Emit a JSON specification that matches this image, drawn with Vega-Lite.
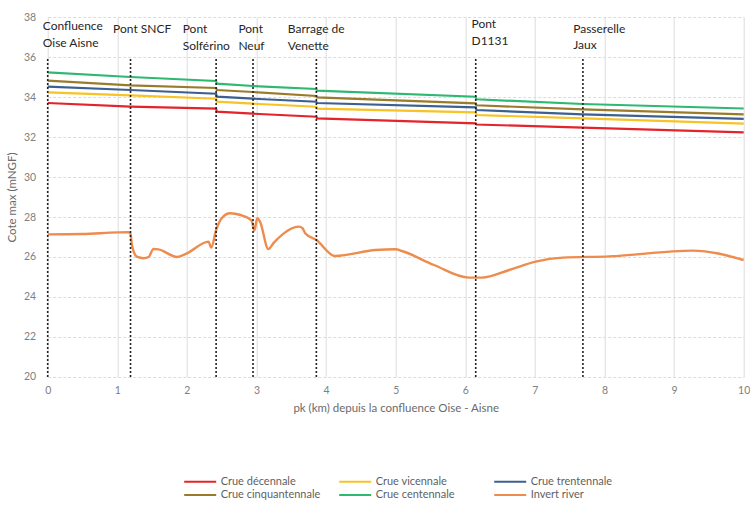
{
  "$schema": "https://vega.github.io/schema/vega-lite/v6.json",
  "width": 696,
  "height": 360,
  "autosize": {"type": "none"},
  "padding": {"left": 47.7, "top": 17, "right": 6, "bottom": 128},
  "background": "white",
  "config": {
    "font": "Lato",
    "view": {"stroke": null},
    "axis": {"labelFont": "Lato", "titleFont": "Lato", "labelColor": "#808080", "titleColor": "#6b6b6b", "titleFontWeight": "normal", "domain": false, "ticks": false, "gridColor": "#dcdcdc", "gridWidth": 1, "labelOverlap": false},
    "axisY": {"tickCount": 20, "gridDash": [3, 2], "labelOverlap": false}
  },
  "datasets": {
    "floods": [
      {"serie": "Crue centennale", "pk": 0, "cote": 35.235},
      {"serie": "Crue centennale", "pk": 1.19, "cote": 35.0},
      {"serie": "Crue centennale", "pk": 2.42, "cote": 34.8},
      {"serie": "Crue centennale", "pk": 2.43, "cote": 34.665},
      {"serie": "Crue centennale", "pk": 2.95, "cote": 34.55},
      {"serie": "Crue centennale", "pk": 3.86, "cote": 34.4},
      {"serie": "Crue centennale", "pk": 3.87, "cote": 34.315},
      {"serie": "Crue centennale", "pk": 6.15, "cote": 34.015},
      {"serie": "Crue centennale", "pk": 6.16, "cote": 33.885},
      {"serie": "Crue centennale", "pk": 7.69, "cote": 33.65},
      {"serie": "Crue centennale", "pk": 10, "cote": 33.425},
      {"serie": "Crue cinquantennale", "pk": 0, "cote": 34.815},
      {"serie": "Crue cinquantennale", "pk": 1.19, "cote": 34.585},
      {"serie": "Crue cinquantennale", "pk": 2.42, "cote": 34.45},
      {"serie": "Crue cinquantennale", "pk": 2.43, "cote": 34.35},
      {"serie": "Crue cinquantennale", "pk": 2.95, "cote": 34.25},
      {"serie": "Crue cinquantennale", "pk": 3.86, "cote": 34.05},
      {"serie": "Crue cinquantennale", "pk": 3.87, "cote": 33.985},
      {"serie": "Crue cinquantennale", "pk": 6.15, "cote": 33.685},
      {"serie": "Crue cinquantennale", "pk": 6.16, "cote": 33.585},
      {"serie": "Crue cinquantennale", "pk": 7.69, "cote": 33.385},
      {"serie": "Crue cinquantennale", "pk": 10, "cote": 33.135},
      {"serie": "Crue trentennale", "pk": 0, "cote": 34.515},
      {"serie": "Crue trentennale", "pk": 1.19, "cote": 34.35},
      {"serie": "Crue trentennale", "pk": 2.42, "cote": 34.165},
      {"serie": "Crue trentennale", "pk": 2.43, "cote": 34.015},
      {"serie": "Crue trentennale", "pk": 2.95, "cote": 33.915},
      {"serie": "Crue trentennale", "pk": 3.86, "cote": 33.765},
      {"serie": "Crue trentennale", "pk": 3.87, "cote": 33.7},
      {"serie": "Crue trentennale", "pk": 6.15, "cote": 33.485},
      {"serie": "Crue trentennale", "pk": 6.16, "cote": 33.35},
      {"serie": "Crue trentennale", "pk": 7.69, "cote": 33.135},
      {"serie": "Crue trentennale", "pk": 10, "cote": 32.91},
      {"serie": "Crue vicennale", "pk": 0, "cote": 34.235},
      {"serie": "Crue vicennale", "pk": 1.19, "cote": 34.085},
      {"serie": "Crue vicennale", "pk": 2.42, "cote": 33.915},
      {"serie": "Crue vicennale", "pk": 2.43, "cote": 33.765},
      {"serie": "Crue vicennale", "pk": 2.95, "cote": 33.665},
      {"serie": "Crue vicennale", "pk": 3.86, "cote": 33.515},
      {"serie": "Crue vicennale", "pk": 3.87, "cote": 33.415},
      {"serie": "Crue vicennale", "pk": 6.15, "cote": 33.235},
      {"serie": "Crue vicennale", "pk": 6.16, "cote": 33.1},
      {"serie": "Crue vicennale", "pk": 7.69, "cote": 32.935},
      {"serie": "Crue vicennale", "pk": 10, "cote": 32.665},
      {"serie": "Crue décennale", "pk": 0, "cote": 33.7},
      {"serie": "Crue décennale", "pk": 1.19, "cote": 33.515},
      {"serie": "Crue décennale", "pk": 2.42, "cote": 33.415},
      {"serie": "Crue décennale", "pk": 2.43, "cote": 33.265},
      {"serie": "Crue décennale", "pk": 2.95, "cote": 33.165},
      {"serie": "Crue décennale", "pk": 3.86, "cote": 33.015},
      {"serie": "Crue décennale", "pk": 3.87, "cote": 32.935},
      {"serie": "Crue décennale", "pk": 6.15, "cote": 32.685},
      {"serie": "Crue décennale", "pk": 6.16, "cote": 32.625},
      {"serie": "Crue décennale", "pk": 7.69, "cote": 32.465},
      {"serie": "Crue décennale", "pk": 10, "cote": 32.235}
    ],
    "invert": [
      {"serie": "Invert river", "pk": 0, "cote": 27.13},
      {"serie": "Invert river", "pk": 0.5, "cote": 27.15},
      {"serie": "Invert river", "pk": 1.0, "cote": 27.23},
      {"serie": "Invert river", "pk": 1.16, "cote": 27.24},
      {"serie": "Invert river", "pk": 1.19, "cote": 27.15},
      {"serie": "Invert river", "pk": 1.21, "cote": 26.6},
      {"serie": "Invert river", "pk": 1.28, "cote": 26.02},
      {"serie": "Invert river", "pk": 1.38, "cote": 25.94},
      {"serie": "Invert river", "pk": 1.45, "cote": 26.0},
      {"serie": "Invert river", "pk": 1.52, "cote": 26.4},
      {"serie": "Invert river", "pk": 1.59, "cote": 26.38},
      {"serie": "Invert river", "pk": 1.86, "cote": 26.0},
      {"serie": "Invert river", "pk": 2.0, "cote": 26.18},
      {"serie": "Invert river", "pk": 2.31, "cote": 26.77},
      {"serie": "Invert river", "pk": 2.35, "cote": 26.47},
      {"serie": "Invert river", "pk": 2.42, "cote": 27.35},
      {"serie": "Invert river", "pk": 2.5, "cote": 27.94},
      {"serie": "Invert river", "pk": 2.62, "cote": 28.19},
      {"serie": "Invert river", "pk": 2.77, "cote": 28.1},
      {"serie": "Invert river", "pk": 2.93, "cote": 27.82},
      {"serie": "Invert river", "pk": 2.97, "cote": 27.32},
      {"serie": "Invert river", "pk": 3.01, "cote": 27.94},
      {"serie": "Invert river", "pk": 3.05, "cote": 27.77},
      {"serie": "Invert river", "pk": 3.17, "cote": 26.4},
      {"serie": "Invert river", "pk": 3.25, "cote": 26.72},
      {"serie": "Invert river", "pk": 3.61, "cote": 27.52},
      {"serie": "Invert river", "pk": 3.66, "cote": 27.44},
      {"serie": "Invert river", "pk": 3.7, "cote": 27.19},
      {"serie": "Invert river", "pk": 3.86, "cote": 26.85},
      {"serie": "Invert river", "pk": 4.13, "cote": 26.05},
      {"serie": "Invert river", "pk": 4.71, "cote": 26.35},
      {"serie": "Invert river", "pk": 5.0, "cote": 26.39},
      {"serie": "Invert river", "pk": 5.09, "cote": 26.3},
      {"serie": "Invert river", "pk": 5.55, "cote": 25.6},
      {"serie": "Invert river", "pk": 6.05, "cote": 24.97},
      {"serie": "Invert river", "pk": 6.24, "cote": 24.97},
      {"serie": "Invert river", "pk": 6.63, "cote": 25.35},
      {"serie": "Invert river", "pk": 7.01, "cote": 25.77},
      {"serie": "Invert river", "pk": 7.4, "cote": 25.97},
      {"serie": "Invert river", "pk": 8.07, "cote": 26.03},
      {"serie": "Invert river", "pk": 9.27, "cote": 26.32},
      {"serie": "Invert river", "pk": 10, "cote": 25.85}
    ],
    "bridges": [
      {"ouvrage": "Confluence Oise Aisne", "pk": 0},
      {"ouvrage": "Pont SNCF", "pk": 1.19},
      {"ouvrage": "Pont Solférino", "pk": 2.42},
      {"ouvrage": "Pont Neuf", "pk": 2.95},
      {"ouvrage": "Barrage de Venette", "pk": 3.86},
      {"ouvrage": "Pont D1131", "pk": 6.15},
      {"ouvrage": "Passerelle Jaux", "pk": 7.69}
    ],
    "labels": [
      {"texte": "Confluence\nOise Aisne", "pk": -0.07, "cote": 37.35},
      {"texte": "Pont SNCF", "pk": 0.94, "cote": 37.185},
      {"texte": "Pont\nSolférino", "pk": 1.94, "cote": 37.185},
      {"texte": "Pont\nNeuf", "pk": 2.74, "cote": 37.185},
      {"texte": "Barrage de\nVenette", "pk": 3.45, "cote": 37.185},
      {"texte": "Pont\nD1131", "pk": 6.09, "cote": 37.435},
      {"texte": "Passerelle\nJaux", "pk": 7.55, "cote": 37.21}
    ]
  },
  "layer": [
    {
      "data": {"name": "floods"},
      "mark": {"type": "line", "interpolate": "linear", "strokeWidth": 2.2},
      "encoding": {
        "x": {"field": "pk", "type": "quantitative", "scale": {"domain": [0, 10], "nice": false, "zero": false},
          "axis": {"values": [0,1,2,3,4,5,6,7,8,9,10], "tickCount": 20, "format": "d", "title": "pk (km) depuis la confluence Oise - Aisne", "labelFontSize": 10.5, "titleFontSize": 11.5, "labelPadding": 9, "titlePadding": 6, "grid": true, "labelOverlap": false, "labelFlush": false}},
        "y": {"field": "cote", "type": "quantitative", "scale": {"domain": [20, 38], "nice": false, "zero": false},
          "axis": {"values": [20,22,24,26,28,30,32,34,36,38], "tickCount": 20, "format": "d", "title": "Cote max (mNGF)", "labelFontSize": 10.5, "titleFontSize": 11.5, "labelPadding": 12, "titlePadding": 6, "gridDash": [3, 2], "labelOverlap": false, "labelFlush": false}},
        "color": {"field": "serie", "type": "nominal",
          "scale": {"domain": ["Crue décennale", "Crue vicennale", "Crue trentennale", "Crue cinquantennale", "Crue centennale", "Invert river"],
                    "range": ["#E3242B", "#F7C325", "#3B6091", "#9A7B2C", "#2EB872", "#EE8C4E"]},
          "legend": {"title": null, "orient": "none", "legendX": 159, "legendY": 459, "direction": "horizontal", "columns": 3, "gridAlign": "all", "columnPadding": 14, "rowPadding": 1.5, "symbolType": "M-7,0L1,0", "symbolSize": 64, "symbolStrokeWidth": 2.2, "labelFont": "Lato", "labelFontSize": 11, "labelColor": "#5f5f5f", "labelOffset": 3, "padding": 0}}
      }
    },
    {
      "data": {"name": "invert"},
      "mark": {"type": "line", "interpolate": "monotone", "strokeWidth": 2.4},
      "encoding": {
        "x": {"field": "pk", "type": "quantitative"},
        "y": {"field": "cote", "type": "quantitative"},
        "color": {"field": "serie", "type": "nominal"}
      }
    },
    {
      "data": {"name": "bridges"},
      "mark": {"type": "rule", "color": "#222222", "strokeWidth": 1.6, "strokeDash": [2, 2]},
      "encoding": {
        "x": {"field": "pk", "type": "quantitative"},
        "y": {"datum": 20, "type": "quantitative"},
        "y2": {"datum": 36}
      }
    },
    {
      "data": {"name": "labels"},
      "mark": {"type": "text", "align": "left", "baseline": "alphabetic", "font": "Lato", "fontSize": 12, "color": "#262626", "lineBreak": "\n", "lineHeight": 16.7},
      "encoding": {
        "x": {"field": "pk", "type": "quantitative"},
        "y": {"field": "cote", "type": "quantitative"},
        "text": {"field": "texte"}
      }
    }
  ]
}
